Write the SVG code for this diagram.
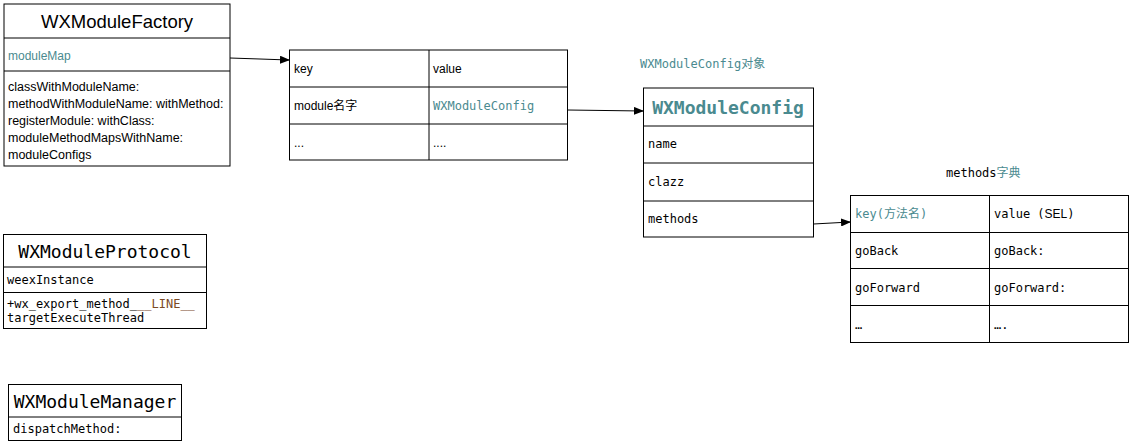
<svg xmlns="http://www.w3.org/2000/svg" width="1130" height="444" viewBox="0 0 1130 444">
<defs>
<style>
.box{fill:#fff;stroke:#000;stroke-width:1}
.ln{stroke:#000;stroke-width:1;fill:none}
.sans{font-family:"Liberation Sans",Arial,sans-serif;font-size:12px;fill:#000}
.sm{font-size:12.5px}
.mono{font-family:"DejaVu Sans Mono","Liberation Mono",monospace;font-size:12px;fill:#000}
.teal{fill:#4a8a8f}
.brown{fill:#7b4a24}
.conn{stroke:#000;stroke-width:1;fill:none;marker-end:url(#arr)}
</style>
<marker id="arr" markerWidth="10" markerHeight="8" refX="9" refY="4" orient="auto" markerUnits="userSpaceOnUse">
<path d="M0,0 L10,4 L0,8 Z" fill="#000"/>
</marker>
</defs>
<rect width="1130" height="444" fill="#fff"/>

<g id="factory">
<rect class="box" x="4" y="4" width="226" height="162"/>
<line class="ln" x1="4" y1="38" x2="230" y2="38"/>
<line class="ln" x1="4" y1="71" x2="230" y2="71"/>
<text x="117" y="28" text-anchor="middle" style="font-family:'Liberation Sans',Arial,sans-serif;font-size:18.5px">WXModuleFactory</text>
<text class="sans teal" x="8" y="60">moduleMap</text>
<text class="sans sm" x="8" y="91">classWithModuleName:</text>
<text class="sans sm" x="8" y="108">methodWithModuleName: withMethod:</text>
<text class="sans sm" x="8" y="125">registerModule: withClass:</text>
<text class="sans sm" x="8" y="142">moduleMethodMapsWithName:</text>
<text class="sans sm" x="8" y="159">moduleConfigs</text>
</g>

<g id="moduleMap">
<rect class="box" x="289.500" y="50" width="278" height="110"/>
<line class="ln" x1="429" y1="50" x2="429" y2="160"/>
<line class="ln" x1="289.500" y1="87" x2="567.500" y2="87"/>
<line class="ln" x1="289.500" y1="124" x2="567.500" y2="124"/>
<text class="sans" x="294" y="73">key</text>
<text class="sans" x="433" y="73">value</text>
<text class="sans" x="294" y="110">module<tspan style="font-family:'Noto Sans CJK SC',sans-serif">名字</tspan></text>
<text class="mono teal" x="433" y="110">WXModuleConfig</text>
<text class="sans" x="294" y="147">...</text>
<text class="sans" x="433" y="147">....</text>
</g>

<g id="configLabel">
<text class="mono teal" x="640" y="68">WXModuleConfig<tspan style="font-family:'Noto Sans CJK SC',sans-serif">对象</tspan></text>
</g>

<g id="moduleConfig">
<rect class="box" x="643.500" y="88" width="170" height="149"/>
<line class="ln" x1="643.500" y1="126" x2="813.500" y2="126"/>
<line class="ln" x1="643.500" y1="163" x2="813.500" y2="163"/>
<line class="ln" x1="643.500" y1="201" x2="813.500" y2="201"/>
<text x="728" y="114" text-anchor="middle" style="font-family:'DejaVu Sans Mono',monospace;font-size:18px;font-weight:bold;fill:#4a8a8f">WXModuleConfig</text>
<text class="mono" x="648" y="148">name</text>
<text class="mono" x="648" y="186">clazz</text>
<text class="mono" x="648" y="223">methods</text>
</g>

<g id="methodsLabel">
<text class="mono" x="946" y="177">methods<tspan class="teal" style="font-family:'Noto Sans CJK SC',sans-serif">字典</tspan></text>
</g>

<g id="methodsDict">
<rect class="box" x="850.500" y="195.500" width="278" height="147"/>
<line class="ln" x1="989.500" y1="195.500" x2="989.500" y2="342.500"/>
<line class="ln" x1="850.500" y1="232.500" x2="1128.500" y2="232.500"/>
<line class="ln" x1="850.500" y1="268.500" x2="1128.500" y2="268.500"/>
<line class="ln" x1="850.500" y1="305.500" x2="1128.500" y2="305.500"/>
<text class="mono teal" x="855" y="218">key(<tspan style="font-family:'Noto Sans CJK SC',sans-serif">方法名</tspan>)</text>
<text class="mono" x="994" y="218">value (<tspan style="font-family:'Liberation Sans',sans-serif">SEL</tspan>)</text>
<text class="mono" x="855" y="255">goBack</text>
<text class="mono" x="994" y="255">goBack:</text>
<text class="mono" x="855" y="292">goForward</text>
<text class="mono" x="994" y="292">goForward:</text>
<text class="mono" x="855" y="329">…</text>
<text class="mono" x="994" y="329">….</text>
</g>

<g id="protocol">
<rect class="box" x="3.500" y="234.500" width="203" height="94"/>
<line class="ln" x1="3.500" y1="267" x2="206.500" y2="267"/>
<line class="ln" x1="3.500" y1="292.500" x2="206.500" y2="292.500"/>
<text x="105" y="258" text-anchor="middle" style="font-family:'DejaVu Sans Mono',monospace;font-size:18px">WXModuleProtocol</text>
<text class="mono" x="7" y="284">weexInstance</text>
<text class="mono" x="7" y="308">+wx_export_method_<tspan class="brown">__LINE__</tspan></text>
<text class="mono" x="7" y="322">targetExecuteThread</text>
</g>

<g id="manager">
<rect class="box" x="8.500" y="384.500" width="173" height="56"/>
<line class="ln" x1="8.500" y1="417" x2="181.500" y2="417"/>
<text x="95" y="408" text-anchor="middle" style="font-family:'DejaVu Sans Mono',monospace;font-size:18px">WXModuleManager</text>
<text class="mono" x="13" y="433">dispatchMethod:</text>
</g>

<g id="connectors">
<line class="conn" x1="230" y1="58" x2="289" y2="60"/>
<line class="conn" x1="567.500" y1="110" x2="643" y2="111"/>
<line class="conn" x1="813.500" y1="224" x2="850" y2="222"/>
</g>
</svg>
